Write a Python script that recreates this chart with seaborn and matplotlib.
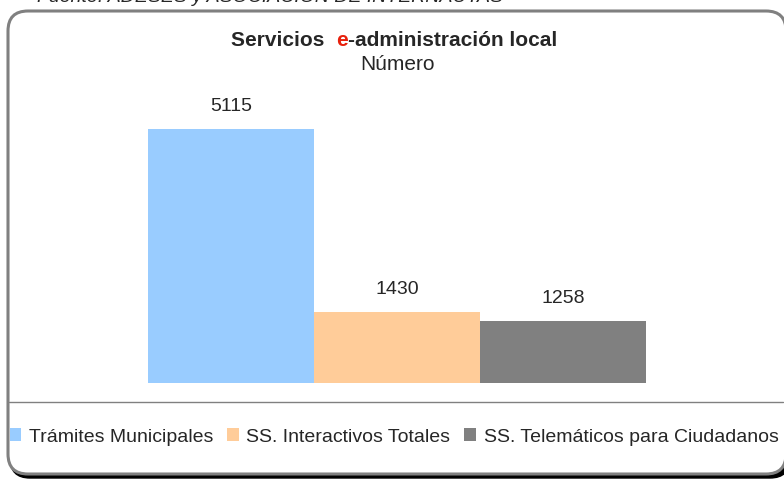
import matplotlib.pyplot as plt
import seaborn as sns
import pandas as pd
from matplotlib.patches import FancyBboxPatch, Patch
from matplotlib.lines import Line2D

categorias = ["Trámites Municipales", "SS. Interactivos Totales", "SS. Telemáticos para Ciudadanos"]
valores = [5115, 1430, 1258]
colores = ["#99ccff", "#ffcc99", "#808080"]

sns.set_style("white")
plt.rcParams["font.family"] = ["Liberation Sans", "DejaVu Sans"]

W, H = 784, 479
fig = plt.figure(figsize=(W / 100, H / 100), dpi=100)
fig.patch.set_facecolor("white")

# marco redondeado con sombra
px = fig.dpi_scale_trans
sombra = FancyBboxPatch((10 / 100, 1 / 100), 780 / 100, 462 / 100,
                        boxstyle="round,pad=0,rounding_size=0.2",
                        transform=px, facecolor="black", edgecolor="black", zorder=-6)
marco = FancyBboxPatch((8 / 100, 5 / 100), 778 / 100, 463 / 100,
                       boxstyle="round,pad=0,rounding_size=0.2",
                       transform=px, facecolor="white", edgecolor="#808080",
                       linewidth=2.2, zorder=-5)
fig.add_artist(sombra)
fig.add_artist(marco)
fig.add_artist(Line2D([9 / W, 783 / W], [77 / H, 77 / H], transform=fig.transFigure,
                      color="#808080", linewidth=1.0, zorder=-4))

ax = fig.add_axes([148 / W, 96 / H, 498 / W, 298 / H])
ax.set_facecolor("none")
df = pd.DataFrame({"cat": categorias, "valor": valores})
sns.barplot(data=df, x="cat", y="valor", hue="cat", palette=colores,
            width=1.0, legend=False, ax=ax, saturation=1, linewidth=0)
ax.set_ylim(0, 6000)
ax.set_xlim(-0.5, 2.5)
ax.axis("off")
for cont in ax.containers:
    ax.bar_label(cont, fmt="%d", padding=10, fontsize=14)

# titulo con la "e" en rojo
y_t = 1 - 41 / H
t1 = fig.text(336 / W, y_t, "Servicios  ", ha="right", va="center",
              fontsize=15, fontweight="bold")
t2 = fig.text(336 / W, y_t, "e", ha="left", va="center",
              fontsize=15, fontweight="bold", color="#e8200c")
fig.canvas.draw()
bb = t2.get_window_extent()
fig.text(bb.x1 / W, y_t, "-administración local", ha="left", va="center",
         fontsize=15, fontweight="bold")
fig.text(398 / W, 1 - 64 / H, "Número", ha="center", va="center", fontsize=15)

fig.text(37 / W, 1 + 4 / H, "Fuente: ADESES y ASOCIACIÓN DE INTERNAUTAS",
         ha="left", va="center", fontsize=14, style="italic")

handles = [Patch(facecolor=c, edgecolor="none") for c in colores]
fig.legend(handles, categorias, loc="center", bbox_to_anchor=(394 / W, 42 / H),
           ncol=3, frameon=False, fontsize=14, handlelength=0.6, handleheight=0.6,
           handletextpad=0.4, columnspacing=0.7, borderaxespad=0)

fig.savefig("out.png", dpi=100)
